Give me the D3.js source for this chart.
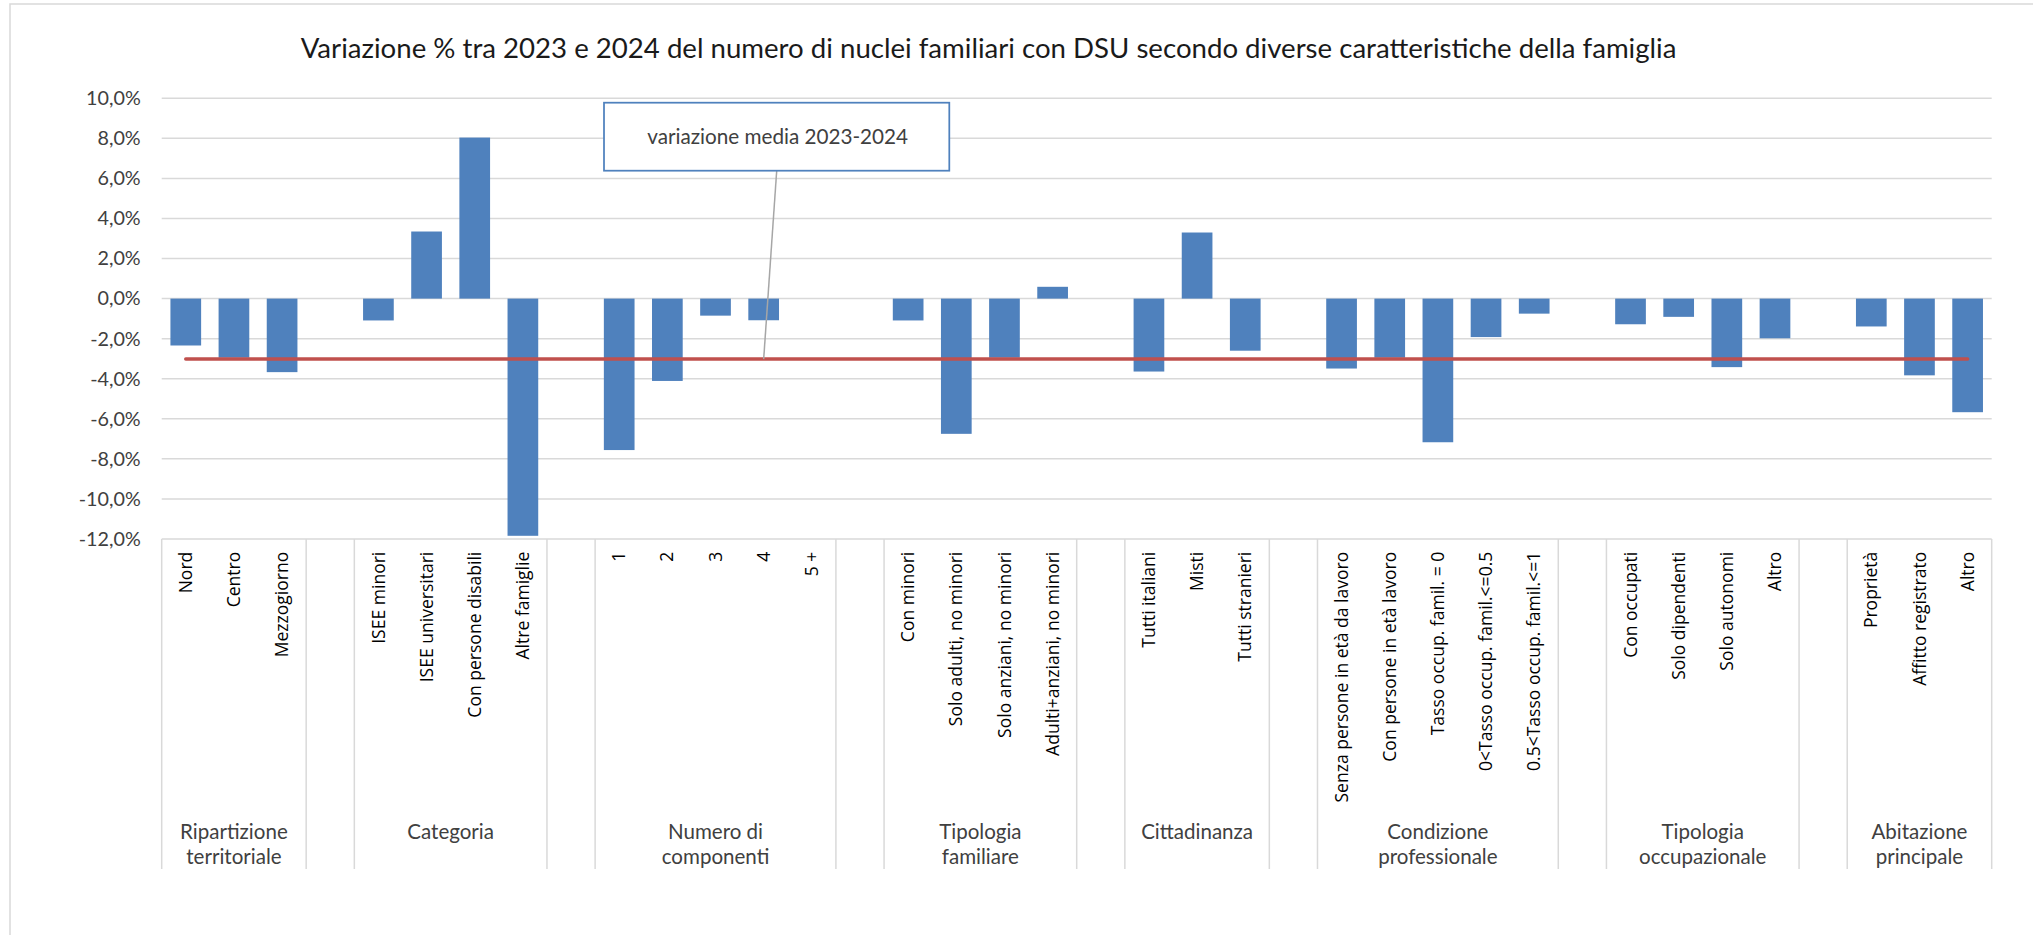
<!DOCTYPE html>
<html>
<head>
<meta charset="utf-8">
<script src="https://cdn.jsdelivr.net/npm/d3@7"></script>
<style>
  body { margin: 0; background: #fff; }
  svg { display: block; }
</style>
</head>
<body>
<svg id="chart" width="2033" height="935"></svg>
<script>
// livello esterno dell'asse (gruppi), una riga per elemento
var groups = [
  ["Ripartizione", "territoriale"],
  ["Categoria"],
  ["Numero di", "componenti"],
  ["Tipologia", "familiare"],
  ["Cittadinanza"],
  ["Condizione", "professionale"],
  ["Tipologia", "occupazionale"],
  ["Abitazione", "principale"]
];
// livello interno (categorie)
var categories = [
  ["Nord", "Centro", "Mezzogiorno"],
  ["ISEE minori", "ISEE universitari", "Con persone disabili", "Altre famiglie"],
  ["1", "2", "3", "4", "5 +"],
  ["Con minori", "Solo adulti, no minori", "Solo anziani, no minori", "Adulti+anziani, no minori"],
  ["Tutti italiani", "Misti", "Tutti stranieri"],
  ["Senza persone in età da lavoro", "Con persone in età lavoro", "Tasso occup. famil. = 0",
   "0<Tasso occup. famil.<=0.5", "0.5<Tasso occup. famil.<=1"],
  ["Con occupati", "Solo dipendenti", "Solo autonomi", "Altro"],
  ["Proprietà", "Affitto registrato", "Altro"]
];
// variazione % 2023-2024
var values = [
  [-2.34, -2.95, -3.67],
  [-1.09, 3.35, 8.04, -11.84],
  [-7.56, -4.11, -0.85, -1.08, null],
  [-1.09, -6.75, -2.95, 0.59],
  [-3.64, 3.30, -2.60],
  [-3.49, -2.95, -7.17, -1.92, -0.75],
  [-1.28, -0.91, -3.42, -1.98],
  [-1.39, -3.83, -5.67]
];
var meanValue = -3.02;
var yTicks = [10, 8, 6, 4, 2, 0, -2, -4, -6, -8, -10, -12];

var title = "Variazione % tra 2023 e 2024 del numero di nuclei familiari con DSU secondo diverse caratteristiche della famiglia";
var noteText = "variazione media 2023-2024";

var width = 2033, height = 935;
var plotLeft = 161.7, plotRight = 1991.7, plotTop = 98.3, plotBottom = 539;
var sepBottom = 869;

var svg = d3.select("#chart");

// cornice del grafico
svg.append("rect")
  .attr("x", 10).attr("y", 4)
  .attr("width", 2100).attr("height", 1000)
  .attr("fill", "#fff")
  .attr("stroke", "#d9d9d9").attr("stroke-width", 1.5);

// slot: categorie + uno slot vuoto tra i gruppi
var slots = [];
var segments = [];
categories.forEach(function(cats, g) {
  if (g > 0) {
    slots.push({key: "gap" + g, gap: true});
    segments.push({first: "gap" + g, last: "gap" + g, label: null});
  }
  cats.forEach(function(c, i) {
    slots.push({key: g + "_" + i, label: c, value: values[g][i], gap: false});
  });
  segments.push({first: g + "_0", last: g + "_" + (cats.length - 1), label: groups[g]});
});

var x = d3.scaleBand()
  .domain(slots.map(function(d) { return d.key; }))
  .range([plotLeft, plotRight])
  .paddingInner(0.3626)
  .paddingOuter(0.1813);
var y = d3.scaleLinear().domain([-12, 10]).range([plotBottom, plotTop]);

var half = (x.step() - x.bandwidth()) / 2;
function slotLeft(k) { return x(k) - half; }
function slotRight(k) { return x(k) + x.bandwidth() + half; }
function center(k) { return x(k) + x.bandwidth() / 2; }

var locale = d3.formatLocale({decimal: ",", thousands: ".", grouping: [3], currency: ["€", ""], minus: "-"});
var fmt = locale.format(".1f");

// adatta la dimensione del font ad una larghezza
function fit(sel, target) {
  var fs = parseFloat(sel.style("font-size"));
  var w = sel.node().getComputedTextLength();
  var nf = fs * target / w;
  sel.style("font-size", nf + "px");
  return nf;
}

// griglia
svg.append("g").selectAll("line")
  .data(yTicks)
  .join("line")
  .attr("x1", plotLeft).attr("x2", plotRight)
  .attr("y1", function(d) { return y(d); })
  .attr("y2", function(d) { return y(d); })
  .attr("stroke", "#d9d9d9").attr("stroke-width", 1.5);

// asse y
var yAxis = svg.append("g")
  .attr("transform", "translate(" + plotLeft + ",0)")
  .call(d3.axisLeft(y).tickValues(yTicks).tickSize(0).tickPadding(21)
    .tickFormat(function(d) { return fmt(d) + "%"; }));
yAxis.attr("font-family", null).attr("font-size", null);
yAxis.select(".domain").remove();
yAxis.selectAll("text")
  .style("font-family", "Lato, sans-serif")
  .style("font-size", "18px")
  .attr("fill", "#404040");
var yfs = fit(yAxis.selectAll("text").filter(function(d) { return d === -12; }), 62);
yAxis.selectAll("text").style("font-size", yfs + "px");

// barre
svg.append("g").selectAll("rect")
  .data(slots.filter(function(d) { return !d.gap && d.value !== null; }))
  .join("rect")
  .attr("x", function(d) { return x(d.key); })
  .attr("width", x.bandwidth())
  .attr("y", function(d) { return y(Math.max(0, d.value)); })
  .attr("height", function(d) { return Math.abs(y(d.value) - y(0)); })
  .attr("fill", "#4f81bd");

// separatori dell'asse categorie
var seps = segments.map(function(s) { return slotLeft(s.first); });
seps.push(slotRight(segments[segments.length - 1].last));
svg.append("g").selectAll("line")
  .data(seps)
  .join("line")
  .attr("x1", function(d) { return d; }).attr("x2", function(d) { return d; })
  .attr("y1", plotBottom).attr("y2", sepBottom)
  .attr("stroke", "#d9d9d9").attr("stroke-width", 1.5);

// etichette categorie (verticali)
var catLabels = svg.append("g").selectAll("text")
  .data(slots.filter(function(d) { return !d.gap; }))
  .join("text")
  .attr("transform", function(d) { return "translate(" + center(d.key) + "," + (plotBottom + 12.7) + ") rotate(-90)"; })
  .attr("text-anchor", "end")
  .attr("dy", "0.35em")
  .style("font-family", "'Open Sans', sans-serif")
  .style("font-size", "17px")
  .attr("fill", "#000")
  .text(function(d) { return d.label; });
var cfs = fit(catLabels.filter(function(d) { return d.label === "Senza persone in età da lavoro"; }), 251);
catLabels.style("font-size", cfs + "px");

// etichette gruppi
var grp = svg.append("g").selectAll("text")
  .data(segments.filter(function(s) { return s.label; }))
  .join("text")
  .attr("text-anchor", "middle")
  .attr("x", function(s) { return (slotLeft(s.first) + slotRight(s.last)) / 2; })
  .attr("y", 831.7)
  .style("font-family", "Lato, sans-serif")
  .style("font-size", "20px")
  .attr("fill", "#404040");
grp.selectAll("tspan")
  .data(function(s) { return s.label; })
  .join("tspan")
  .attr("x", function() { return d3.select(this.parentNode).attr("x"); })
  .attr("dy", function(d, i) { return i === 0 ? "0.35em" : "25px"; })
  .text(function(d) { return d; });
var probe = svg.append("text").style("font-family", "Lato, sans-serif").style("font-size", "20px").text("Ripartizione");
var gfs = fit(probe, 107.7);
probe.remove();
grp.style("font-size", gfs + "px");

// linea della variazione media
var line = d3.line()
  .x(function(d) { return center(d.key); })
  .y(function() { return y(meanValue); });
svg.append("path")
  .datum(slots)
  .attr("d", line)
  .attr("fill", "none")
  .attr("stroke", "#c0504d")
  .attr("stroke-width", 3.5)
  .attr("stroke-linecap", "round");

// nota con linea di richiamo
var box = {x: 604, y: 102.7, w: 345.3, h: 68};
var anchorX = box.x + 172.7;
svg.append("line")
  .attr("x1", anchorX).attr("y1", box.y + box.h)
  .attr("x2", center("2_3")).attr("y2", y(meanValue))
  .attr("stroke", "#a6a6a6").attr("stroke-width", 1.5);
svg.append("rect")
  .attr("x", box.x).attr("y", box.y)
  .attr("width", box.w).attr("height", box.h)
  .attr("fill", "#fff")
  .attr("stroke", "#4f81bd").attr("stroke-width", 1.75);
var note = svg.append("text")
  .attr("x", box.x + box.w / 2 + 1).attr("y", box.y + box.h / 2)
  .attr("dy", "0.35em")
  .attr("text-anchor", "middle")
  .style("font-family", "Lato, sans-serif")
  .style("font-size", "18px")
  .attr("fill", "#404040")
  .text(noteText);
fit(note, 261);

// titolo
var t = svg.append("text")
  .attr("x", 988.6).attr("y", 58)
  .attr("text-anchor", "middle")
  .style("font-family", "Lato, sans-serif")
  .style("font-size", "24px")
  .attr("fill", "#1a1a1a")
  .text(title);
fit(t, 1376);
</script>
</body>
</html>
